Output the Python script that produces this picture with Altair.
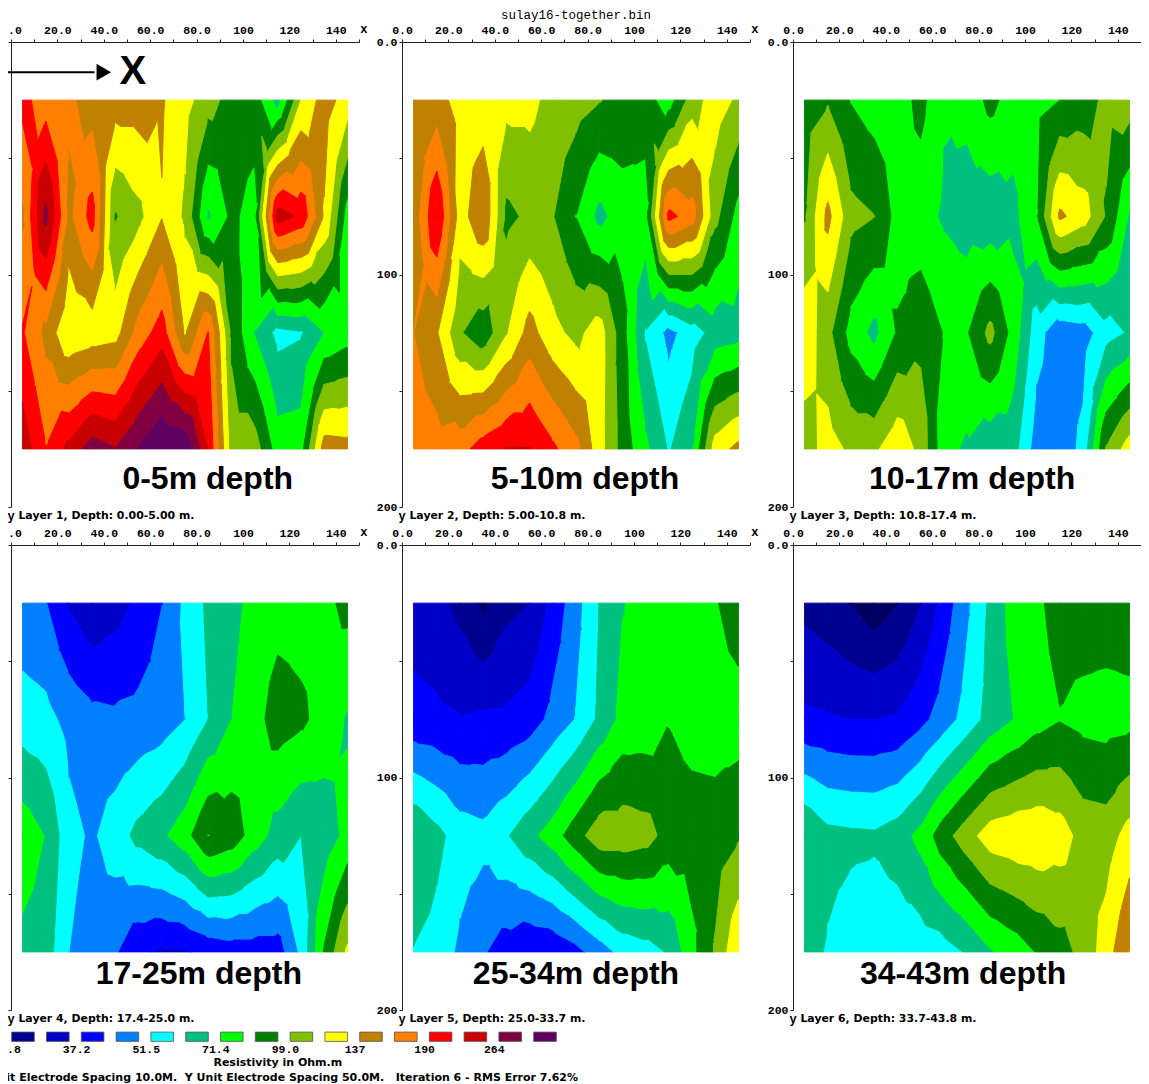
import altair as alt
import pandas as pd

alt.data_transformers.disable_max_rows()

# Node positions of the model blocks (metres)
node_x = [5, 15, 25, 35, 45, 55, 65, 75, 85, 95, 105, 115, 125, 135, 145]
node_y = [25, 75, 125, 175]

# Values read at the nodes, as positions on the colour legend (one unit = one swatch)
layer1_y25 = [13.3, 12.5, 12.2, 11.5, 11.5, 11.5, 11.1, 10.35, 9.4, 8.6, 8.5, 6.6, 10, 11.5, 10.5]
layer1_y75 = [11.8, 15.3, 11.7, 13.4, 8.9, 9.7, 10.95, 9.8, 6.85, 8.2, 7.6, 14.5, 13.8, 10.9, 7.5]
layer1_y125 = [13.1, 11.7, 10.1, 10.4, 10.6, 12.4, 13.5, 10.9, 13.05, 8.8, 6.95, 5.7, 5.9, 7.0, 7.5]
layer1_y175 = [14.6, 13.05, 14.3, 15.5, 15.05, 16.1, 17, 16.8, 13.9, 9.5, 9.5, 7.5, 7.6, 11.5, 11.4]

layer2_y25 = [11.4, 11.4, 10.6, 10.4, 10.3, 10.3, 9.6, 9.4, 9.05, 8.7, 8.4, 7.5, 9.5, 10.5, 9.8]
layer2_y75 = [11.3, 14.02, 10.5, 11.9, 8.75, 9.2, 9.05, 7.98, 6.7, 7.5, 7.6, 13.3, 12.5, 9.3, 7.6]
layer2_y125 = [12.0, 11.1, 9.1, 8.3, 9.9, 11.4, 10.3, 9.7, 10.5, 8.4, 5.9, 4.7, 5.5, 6.4, 6.6]
layer2_y175 = [12.5, 12.4, 12.6, 13.5, 14.05, 14.05, 13.2, 12.3, 10.4, 8.6, 7.2, 5.9, 6.9, 10.5, 11.3]

layer3_y25 = [8.5, 8.9, 7.95, 7.5, 7.5, 8.3, 7.1, 7.3, 8.3, 7.5, 7.7, 8.0, 8.4, 9.3, 9.5]
layer3_y75 = [8.9, 11.3, 9.3, 9.02, 7.6, 7.4, 6.85, 6.5, 6.3, 6.7, 7.9, 11.2, 10.5, 8.9, 6.9]
layer3_y125 = [10.7, 9.3, 7.6, 6.7, 8.1, 8.7, 7.95, 7.9, 9.3, 7.6, 5.4, 4.3, 4.5, 5.6, 6.1]
layer3_y175 = [9.5, 10.4, 9.8, 9.8, 10.7, 9.7, 7.3, 6.85, 6.3, 6.4, 4.5, 4.3, 5.3, 9.1, 10.5]

layer4_y25 = [4.3, 4.05, 2.9, 2.2, 2.6, 3.2, 3.98, 5.2, 6.2, 6.7, 7.3, 7.6, 7.6, 7.7, 8.3]
layer4_y75 = [5.5, 5.3, 4.7, 4.3, 4.2, 4.3, 4.5, 4.99, 6.0, 6.99, 7.6, 8.5, 8.2, 7.6, 6.9]
layer4_y125 = [7.6, 6.95, 5.3, 4.85, 5.5, 6.3, 6.8, 7.6, 9.02, 8.6, 7.5, 6.6, 6.0, 6.4, 7.3]
layer4_y175 = [6.7, 6.5, 5.0, 4.5, 4.1, 3.2, 2.85, 2.9, 3.3, 3.5, 3.5, 3.5, 5.2, 8.1, 10.2]

layer5_y25 = [2.6, 2.3, 1.7, 0.8, 1.7, 2.0, 3.3, 4.6, 6.0, 6.95, 7.3, 7.4, 7.5, 7.9, 8.6]
layer5_y75 = [3.3, 3.2, 3.05, 3.15, 3.2, 3.5, 4.3, 5.05, 6.2, 7.3, 7.4, 7.95, 7.6, 7.5, 7.5]
layer5_y125 = [7.0, 6.3, 5.5, 5.3, 5.9, 6.7, 7.5, 8.6, 9.6, 9.6, 9.4, 8.6, 8.5, 8.5, 8.9]
layer5_y175 = [5.95, 5.6, 4.8, 4.1, 3.5, 3.1, 3.2, 3.7, 4.5, 5.3, 5.6, 6.1, 7.7, 9.1, 10.9]

layer6_y25 = [1.7, 1.4, 0.95, 0.4, 0.95, 1.95, 3.4, 4.8, 6.2, 7.4, 7.8, 8.4, 8.5, 8.5, 8.5]
layer6_y75 = [3.2, 3.1, 3.0, 3.0, 3.1, 3.7, 4.5, 5.4, 6.4, 7.0, 7.6, 7.95, 7.7, 7.6, 7.7]
layer6_y125 = [7.0, 6.3, 6.2, 6.15, 6.5, 7.3, 8.6, 9.6, 10.5, 10.7, 10.8, 10.5, 9.6, 9.5, 10.4]
layer6_y175 = [6.4, 5.9, 5.5, 5.3, 5.3, 5.4, 5.6, 6.1, 6.9, 7.4, 8.05, 8.6, 9.3, 10.5, 12.05]

grids = [
    [layer1_y25, layer1_y75, layer1_y125, layer1_y175],
    [layer2_y25, layer2_y75, layer2_y125, layer2_y175],
    [layer3_y25, layer3_y75, layer3_y125, layer3_y175],
    [layer4_y25, layer4_y75, layer4_y125, layer4_y175],
    [layer5_y25, layer5_y75, layer5_y125, layer5_y175],
    [layer6_y25, layer6_y75, layer6_y125, layer6_y175],
]

band_colors = ["#000060", "#000090", "#0000C8", "#0000FF", "#0080FF", "#00FFFF", "#00C080", "#00FF00",
               "#008000", "#80C000", "#FFFF00", "#C08000", "#FF8000", "#FF0000", "#C80000", "#800040", "#600060"]
legend_values = ["26.8", "37.2", "51.5", "71.4", "99.0", "137", "190", "264"]
captions = ["0-5m depth", "5-10m depth", "10-17m depth", "17-25m depth", "25-34m depth", "34-43m depth"]
caption_x = [84.8, 78.9, 77.2, 81, 75, 73.3]
caption_y = [188, 188, 188, 184.6, 184.6, 184.6]
layer_titles = ["Layer 1, Depth: 0.00-5.00 m.", "Layer 2, Depth: 5.00-10.8 m.", "Layer 3, Depth: 10.8-17.4 m.",
                "Layer 4, Depth: 17.4-25.0 m.", "Layer 5, Depth: 25.0-33.7 m.", "Layer 6, Depth: 33.7-43.8 m."]
file_title = "sulay16-together.bin"
footer = "X Unit Electrode Spacing 10.0M.\u00a0\u00a0Y Unit Electrode Spacing 50.0M.\u00a0\u00a0\u00a0Iteration 6 - RMS Error 7.62%"
resistivity_title = "Resistivity in Ohm.m"


def clip(poly, level, keep_above):
    out = []
    for a, b in zip(poly, poly[1:] + poly[:1]):
        ina = a[2] >= level if keep_above else a[2] <= level
        inb = b[2] >= level if keep_above else b[2] <= level
        if ina:
            out.append(a)
        if ina != inb:
            t = (level - a[2]) / (b[2] - a[2])
            out.append((a[0] + t * (b[0] - a[0]), a[1] + t * (b[1] - a[1]), level))
    return out


def contour_rows(grid):
    """Filled-contour polygons of one layer, one polygon per band and triangle."""
    rows = []
    gid = 0
    for r in range(len(node_y) - 1):
        for c in range(len(node_x) - 1):
            p = [(node_x[c], node_y[r], grid[r][c]), (node_x[c + 1], node_y[r], grid[r][c + 1]),
                 (node_x[c + 1], node_y[r + 1], grid[r + 1][c + 1]), (node_x[c], node_y[r + 1], grid[r + 1][c])]
            mid = (sum(q[0] for q in p) / 4, sum(q[1] for q in p) / 4, sum(q[2] for q in p) / 4)
            for k in range(4):
                tri = [p[k], p[(k + 1) % 4], mid]
                for band in range(len(band_colors)):
                    poly = tri
                    if band > 0:
                        poly = clip(poly, band, True)
                    if poly and band < len(band_colors) - 1:
                        poly = clip(poly, band + 1, False)
                    if len(poly) < 3:
                        continue
                    gid += 1
                    for i, q in enumerate(poly):
                        rows.append({"x": round(q[0], 2), "y": round(q[1], 2), "g": gid, "i": i, "b": band})
    return pd.DataFrame(rows)


xs = alt.Scale(domain=[0, 150], nice=False, zero=False)
ys = alt.Scale(domain=[0, 200], reverse=True, nice=False, zero=False)
TICK = "#222222"
MONO = "Liberation Mono"
SANS = "Liberation Sans"
LABEL = "DejaVu Sans"
band_scale = alt.Scale(domain=list(range(17)), range=band_colors)

x_axis = alt.Axis(orient="top", values=list(range(0, 151, 10)), title=None, grid=False,
                  labelExpr="datum.value % 20 != 0 || datum.value > 140 ? '' : (datum.value < 100 ? format(datum.value, '.1f') : format(datum.value, 'd'))",
                  labelFont=MONO, labelFontWeight="bold", labelFontSize=11.5, labelColor="black",
                  labelPadding=4, tickSize=3, tickColor=TICK, domainColor=TICK, labelOverlap=False, labelFlush=False)
y_axis = alt.Axis(orient="left", values=[0, 50, 100, 150, 200], title=None, grid=False,
                  labelExpr="datum.value == 0 ? '0.0' : (datum.value % 100 == 0 ? format(datum.value, 'd') : '')",
                  labelFont=MONO, labelFontWeight="bold", labelFontSize=11.5, labelColor="black",
                  labelPadding=2, tickSize=3, tickColor=TICK, domainColor=TICK, labelOverlap=False, labelFlush=False)

X = alt.X("x:Q", scale=xs, axis=x_axis)
Y = alt.Y("y:Q", scale=ys, axis=y_axis)


def text_layer(x, y, t, **mark):
    df = pd.DataFrame({"x": [x], "y": [y], "t": [t]})
    return alt.Chart(df).mark_text(color="black", **mark).encode(x=X, y=Y, text="t:N")


def panel(n):
    polys = alt.Chart(contour_rows(grids[n])).mark_line(strokeWidth=1, interpolate="linear-closed").encode(
        x=X, y=Y,
        order=alt.Order("i:Q"),
        detail="g:N",
        fill=alt.Fill("b:O", scale=band_scale, legend=None),
        stroke=alt.Stroke("b:O", scale=band_scale, legend=None),
    )
    layers = [polys]
    layers.append(text_layer(caption_x[n], caption_y[n], captions[n], font=SANS, fontWeight="bold", fontSize=32))
    layers.append(text_layer(-1.5, 204, "y", font=MONO, fontWeight="bold", fontSize=12, align="left"))
    layers.append(text_layer(3.2, 204, layer_titles[n], font=LABEL, fontWeight="bold", fontSize=10.9, align="left"))
    layers.append(text_layer(150.5, -5.5, "x", font=MONO, fontWeight="bold", fontSize=12, align="left"))
    if n == 1:
        layers.append(text_layer(75, -11.5, file_title, font=MONO, fontSize=12.5))
    if n == 0:
        arrow = pd.DataFrame({"x": [-5], "x2": [36], "y": [13]})
        layers.append(alt.Chart(arrow).mark_rule(color="black", strokeWidth=2).encode(x=X, x2="x2:Q", y=Y))
        head = pd.DataFrame({"x": [40], "y": [13]})
        layers.append(alt.Chart(head).mark_point(shape="triangle-right", filled=True, color="black", size=280, opacity=1).encode(x=X, y=Y))
        layers.append(text_layer(52.5, 13, "X", font=SANS, fontWeight="bold", fontSize=40))
    if n == 3:
        # Legend strip under the lower-left panel, on this panel's own scales
        sw = pd.DataFrame({"b": list(range(1, 17))})
        sw["x"] = (sw["b"] - 1) * 15.0 + 0.3
        sw["x2"] = sw["x"] + 9.75
        sw["y"] = 209.5
        sw["y2"] = 213.5
        layers.append(alt.Chart(sw).mark_rect(stroke="#555555", strokeWidth=0.8).encode(
            x=X, x2="x2:Q", y=Y, y2="y2:Q", fill=alt.Fill("b:O", scale=band_scale, legend=None)))
        lab = pd.DataFrame({"x": [-1.7 + 30.0 * i for i in range(8)], "y": [217.2] * 8, "t": legend_values})
        layers.append(alt.Chart(lab).mark_text(font=MONO, fontWeight="bold", fontSize=11.5, color="black").encode(x=X, y=Y, text="t:N"))
        layers.append(text_layer(115, 222.8, resistivity_title, font=LABEL, fontWeight="bold", fontSize=11))
        layers.append(text_layer(244.4, 229.2, footer, font=LABEL, fontWeight="bold", fontSize=11, align="right"))
    return alt.layer(*layers).properties(width=348, height=465)


chart = alt.concat(*[panel(i) for i in range(6)], columns=3, spacing={"row": 38, "column": 43}, bounds="flush").properties(
    autosize=alt.AutoSizeParams(type="none"),
    padding={"left": 3, "top": 34, "right": 1130, "bottom": 1042},
).configure_view(stroke=None)

chart.save("out.html", embed_options={"renderer": "svg", "actions": False})
